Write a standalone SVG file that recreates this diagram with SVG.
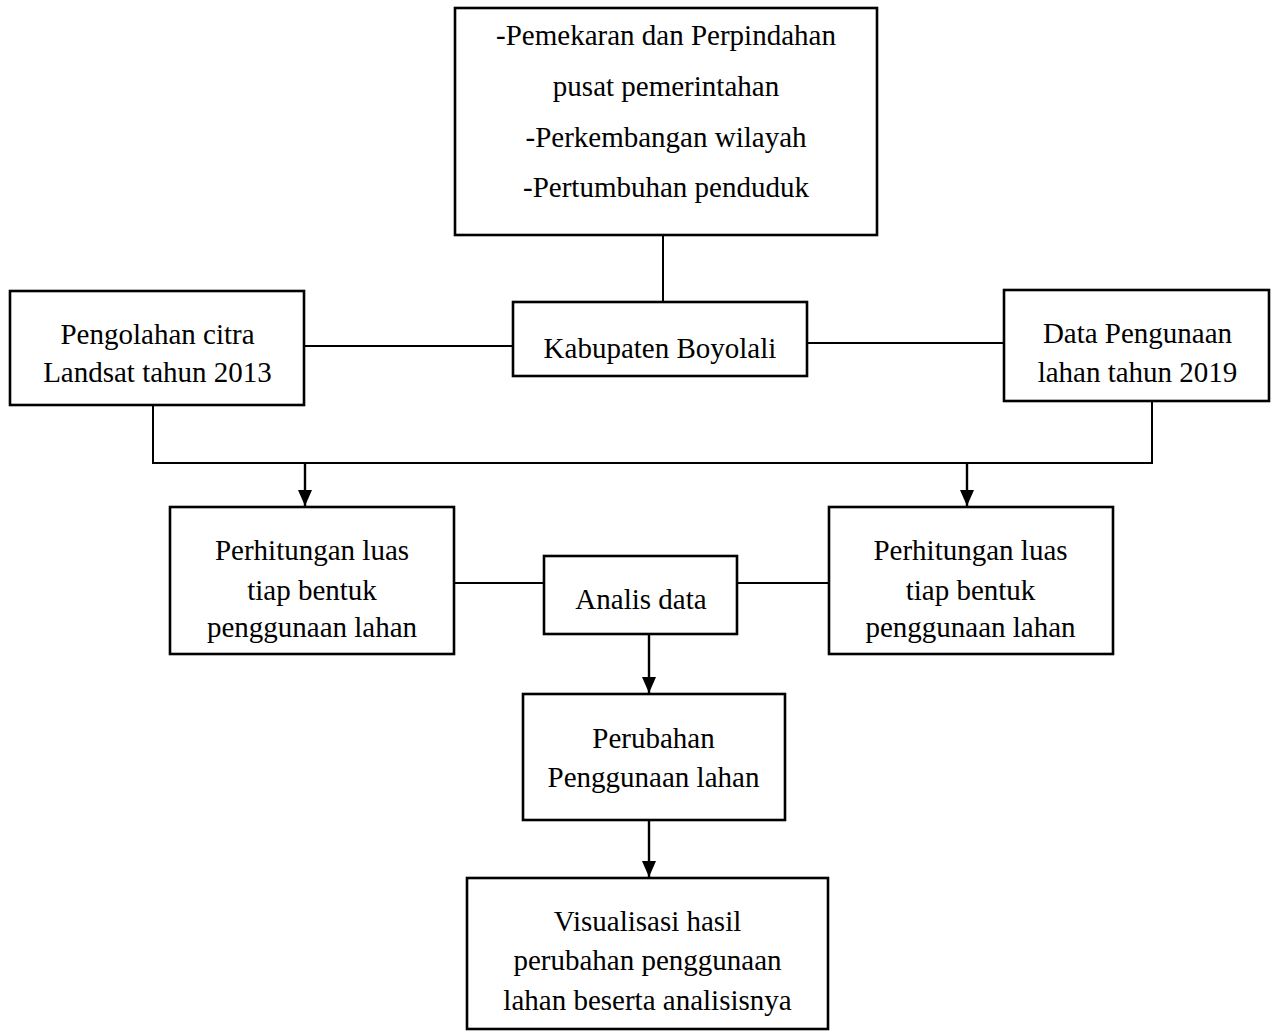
<svg xmlns="http://www.w3.org/2000/svg" width="1279" height="1032" viewBox="0 0 1279 1032">
<style>
.box{fill:#fff;stroke:#000;stroke-width:2.6}
.ln{fill:none;stroke:#000;stroke-width:2}
.ar{fill:none;stroke:#000;stroke-width:2.4}
text{font-family:"Liberation Serif","Times New Roman",serif;font-size:29px;fill:#000;text-anchor:middle}
</style>
<defs>
<marker id="ah" markerUnits="userSpaceOnUse" viewBox="0 0 16 14" markerWidth="16" markerHeight="14" refX="16" refY="7" orient="auto">
<path d="M0,0 L16,7 L0,14 z" fill="#000"/>
</marker>
</defs>
<g id="connectors">
<line class="ln" x1="663" y1="235" x2="663" y2="302"/>
<line class="ln" x1="304" y1="346" x2="513" y2="346"/>
<line class="ln" x1="807" y1="343" x2="1004" y2="343"/>
<polyline class="ln" points="153,405 153,463 1152,463 1152,401"/>
<line class="ar" x1="305" y1="463" x2="305" y2="506" marker-end="url(#ah)"/>
<line class="ar" x1="967" y1="463" x2="967" y2="506" marker-end="url(#ah)"/>
<line class="ln" x1="454" y1="583" x2="544" y2="583"/>
<line class="ln" x1="737" y1="583" x2="829" y2="583"/>
<line class="ar" x1="649" y1="634" x2="649" y2="693" marker-end="url(#ah)"/>
<line class="ar" x1="649" y1="820" x2="649" y2="877" marker-end="url(#ah)"/>
</g>
<g id="node-faktor">
<rect class="box" x="455" y="8" width="422" height="227"/>
<text x="666" y="45">-Pemekaran dan Perpindahan</text>
<text x="666" y="96">pusat pemerintahan</text>
<text x="666" y="147">-Perkembangan wilayah</text>
<text x="666" y="197">-Pertumbuhan penduduk</text>
</g>
<g id="node-kabupaten">
<rect class="box" x="513" y="302" width="294" height="74"/>
<text x="660" y="358">Kabupaten Boyolali</text>
</g>
<g id="node-landsat">
<rect class="box" x="10" y="291" width="294" height="114"/>
<text x="157.5" y="344">Pengolahan citra</text>
<text x="157.5" y="382">Landsat tahun 2013</text>
</g>
<g id="node-data2019">
<rect class="box" x="1004" y="290" width="265" height="111"/>
<text x="1137.5" y="343">Data Pengunaan</text>
<text x="1137.5" y="382">lahan tahun 2019</text>
</g>
<g id="node-luas-kiri">
<rect class="box" x="170" y="507" width="284" height="147"/>
<text x="312" y="560">Perhitungan luas</text>
<text x="312" y="600">tiap bentuk</text>
<text x="312" y="637">penggunaan lahan</text>
</g>
<g id="node-luas-kanan">
<rect class="box" x="829" y="507" width="284" height="147"/>
<text x="970.5" y="560">Perhitungan luas</text>
<text x="970.5" y="600">tiap bentuk</text>
<text x="970.5" y="637">penggunaan lahan</text>
</g>
<g id="node-analis">
<rect class="box" x="544" y="556" width="193" height="78"/>
<text x="641" y="609">Analis data</text>
</g>
<g id="node-perubahan">
<rect class="box" x="523" y="694" width="262" height="126"/>
<text x="653.5" y="748">Perubahan</text>
<text x="653.5" y="787">Penggunaan lahan</text>
</g>
<g id="node-visualisasi">
<rect class="box" x="467" y="878" width="361" height="151"/>
<text x="647.5" y="931">Visualisasi hasil</text>
<text x="647.5" y="970">perubahan penggunaan</text>
<text x="647.5" y="1010">lahan beserta analisisnya</text>
</g>
</svg>
